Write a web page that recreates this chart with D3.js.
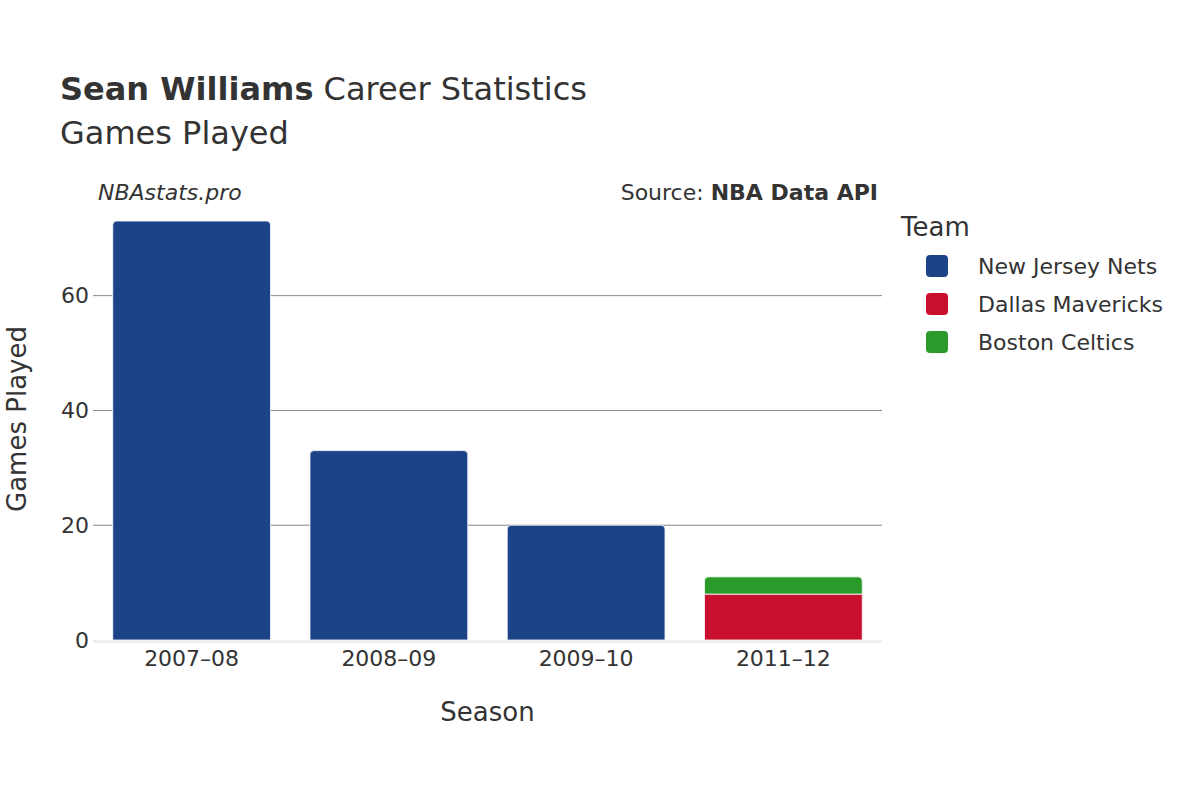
<!DOCTYPE html>
<html><head><meta charset="utf-8">
<script src="https://cdn.jsdelivr.net/npm/d3@7"></script>
<style>body{margin:0;background:#fff}text{font-family:"DejaVu Sans",sans-serif;fill:#333}</style>
</head><body><div id="chart"></div>
<script>
const seasons = ["2007\u201308", "2008\u201309", "2009\u201310", "2011\u201312"]
const teams = ["New Jersey Nets", "Dallas Mavericks", "Boston Celtics"]
const colors = ["#1c4387", "#c8102e", "#2a9a2a"]
const nets = [73, 33, 20, 0]
const mavs = [0, 0, 0, 8]
const celtics = [0, 0, 0, 3]
const yTicks = [0, 20, 40, 60]

const W = 1200, H = 800
const m = {left: 93, right: 882, top: 182, bottom: 640}

const svg = d3.select("#chart").append("svg").attr("width", W).attr("height", H)

const x = d3.scaleBand().domain(seasons).range([m.left, m.right]).paddingInner(0.2).paddingOuter(0.1)
const y = d3.scaleLinear().domain([0, 79.8]).range([m.bottom, m.top])

// grid
svg.append("g").selectAll("line").data(yTicks.filter(d => d > 0)).join("line")
	.attr("x1", m.left).attr("x2", m.right)
	.attr("y1", d => y(d)).attr("y2", d => y(d))
	.attr("stroke", "#888").attr("stroke-width", 1)
svg.append("line").attr("x1", m.left).attr("x2", m.right)
	.attr("y1", m.bottom + 1.5).attr("y2", m.bottom + 1.5)
	.attr("stroke", "#eee").attr("stroke-width", 3)

// stacked bars
const rows = seasons.map((s, i) => ({season: s, v: [nets[i], mavs[i], celtics[i]]}))
const segs = []
rows.forEach(r => {
	let base = 0
	r.v.forEach((v, k) => {
		if (v > 0) segs.push({season: r.season, y0: base, y1: base + v, k: k})
		base += v
	})
})
const rr = 4
svg.append("g").selectAll("path").data(segs).join("path")
	.attr("fill", d => colors[d.k])
	.attr("stroke", "#fff").attr("stroke-width", 0.8)
	.attr("d", d => {
		const x0 = x(d.season), x1 = x0 + x.bandwidth()
		const top = y(d.y1), bot = y(d.y0)
		const isTop = !segs.some(s => s.season == d.season && s.y0 >= d.y1)
		const r = isTop ? Math.min(rr, (bot - top) / 2) : 0
		return `M${x0},${bot}V${top + r}Q${x0},${top} ${x0 + r},${top}H${x1 - r}Q${x1},${top} ${x1},${top + r}V${bot}Z`
	})

// axes labels
svg.append("g").selectAll("text").data(yTicks).join("text")
	.attr("x", m.left - 4).attr("y", d => y(d)).attr("dy", "0.35em")
	.attr("text-anchor", "end").attr("font-size", 22).text(d => d)
svg.append("g").selectAll("text").data(seasons).join("text")
	.attr("x", d => x(d) + x.bandwidth() / 2).attr("y", 666)
	.attr("text-anchor", "middle").attr("font-size", 22).text(d => d)

svg.append("text").attr("x", (m.left + m.right) / 2).attr("y", 721)
	.attr("text-anchor", "middle").attr("font-size", 26).text("Season")
svg.append("text").attr("transform", `translate(26,${(m.top + m.bottom) / 2 + 8}) rotate(-90)`)
	.attr("text-anchor", "middle").attr("font-size", 26).text("Games Played")

// titles
const t = svg.append("text").attr("x", 60).attr("y", 100).attr("font-size", 32)
t.append("tspan").attr("font-weight", "bold").text("Sean Williams")
t.append("tspan").text(" Career Statistics")
svg.append("text").attr("x", 60).attr("y", 144).attr("font-size", 32).text("Games Played")

svg.append("text").attr("x", 98).attr("y", 200).attr("font-size", 22)
	.attr("font-style", "italic").text("NBAstats.pro")
const src = svg.append("text").attr("x", 878).attr("y", 200).attr("font-size", 22).attr("text-anchor", "end")
src.append("tspan").text("Source: ")
src.append("tspan").attr("font-weight", "bold").text("NBA Data API")

// legend
svg.append("text").attr("x", 901).attr("y", 236).attr("font-size", 26).text("Team")
const lg = svg.append("g").selectAll("g").data(teams).join("g")
	.attr("transform", (d, i) => `translate(926,${266 + i * 38})`)
lg.append("rect").attr("x", 0).attr("y", -11).attr("width", 22).attr("height", 22).attr("rx", 4)
	.attr("fill", (d, i) => colors[i])
lg.append("text").attr("x", 52).attr("dy", "0.35em").attr("font-size", 22).text(d => d)
</script></body></html>
